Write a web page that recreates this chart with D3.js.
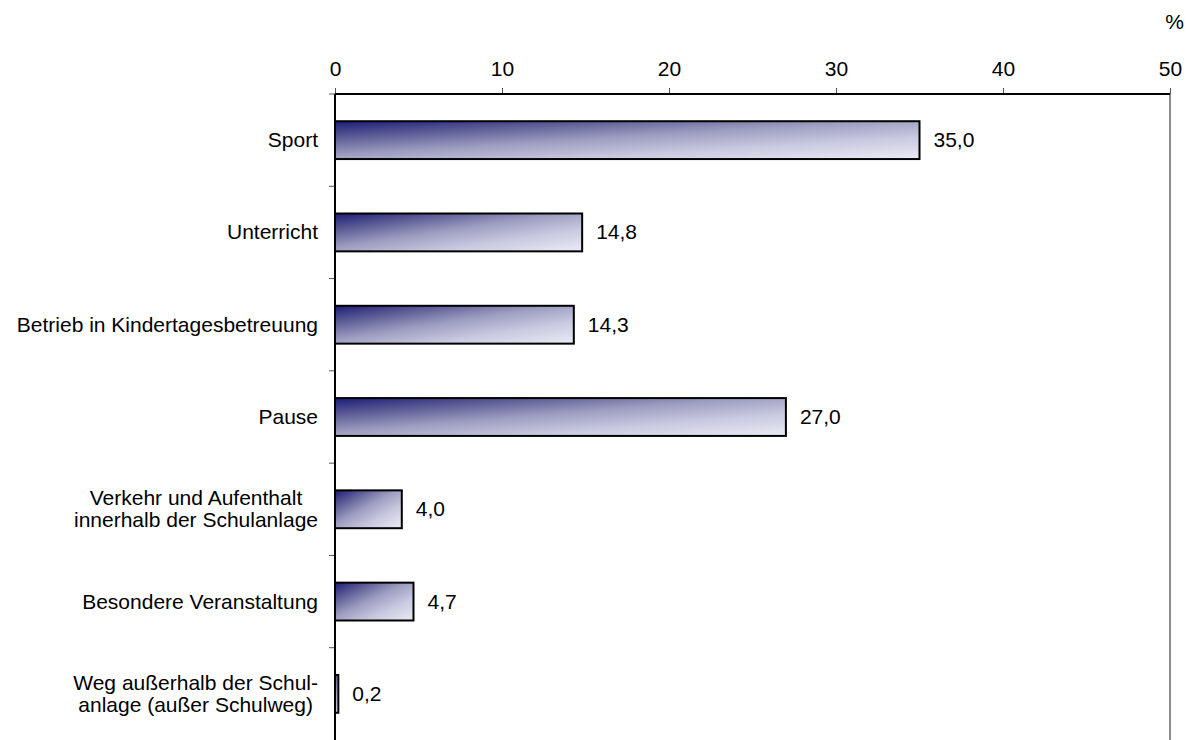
<!DOCTYPE html>
<html>
<head>
<meta charset="utf-8">
<script src="https://cdn.jsdelivr.net/npm/d3@7"></script>
<style>
  body { margin: 0; background: #fff; }
  svg { display: block; font-family: Arial, "Liberation Sans", sans-serif; }
</style>
</head>
<body>
<div id="chart"></div>
<script>
// categories and values (in %)
const categories = [
  ["Sport"],
  ["Unterricht"],
  ["Betrieb in Kindertagesbetreuung"],
  ["Pause"],
  ["Verkehr und Aufenthalt", "innerhalb der Schulanlage"],
  ["Besondere Veranstaltung"],
  ["Weg außerhalb der Schul-", "anlage (außer Schulweg)"]
];
const values = [35.0, 14.8, 14.3, 27.0, 4.0, 4.7, 0.2];
const xTicks = [0, 10, 20, 30, 40, 50];
const unitLabel = "%";

(function(){
  const W = 1187, H = 740;
  const left = 335, right = 1170, top = 94, bottom = 740;
  const fs = 21;

  const svg = d3.select("#chart").append("svg").attr("width", W).attr("height", H);

  // gradient fill for bars
  const grad = svg.append("defs").append("linearGradient")
    .attr("id", "barGrad").attr("x1", 0).attr("y1", 0).attr("x2", 1).attr("y2", 1);
  [[0, "#1c1c78"], [0.22, "#5c5c96"], [0.45, "#9c9cc0"], [0.7, "#c8c8e0"], [1, "#ebebf6"]]
    .forEach(s => grad.append("stop").attr("offset", s[0]).attr("stop-color", s[1]));

  const x = d3.scaleLinear().domain([0, 50]).range([left, right]);
  const y = d3.scaleBand().domain(d3.range(values.length)).range([top, bottom])
    .paddingInner(0.59).paddingOuter(0.295);

  const fmt = v => d3.format(".1f")(v).replace(".", ",");

  // right border (grey)
  svg.append("line").attr("x1", right).attr("x2", right).attr("y1", top).attr("y2", bottom)
    .attr("stroke", "#8c8c8c").attr("stroke-width", 2);

  // top axis
  const xAxis = svg.append("g").attr("transform", `translate(0,${top})`)
    .call(d3.axisTop(x).tickValues(xTicks).tickSize(6).tickPadding(12).tickFormat(d3.format("d")));
  xAxis.select(".domain").remove();
  xAxis.selectAll(".tick line").attr("stroke", "#555");
  xAxis.selectAll(".tick text").attr("font-size", fs).attr("font-family", "Arial, 'Liberation Sans', sans-serif").attr("fill", "#000");
  svg.append("line").attr("x1", left).attr("x2", right).attr("y1", top).attr("y2", top)
    .attr("stroke", "#000").attr("stroke-width", 2);

  svg.append("text").attr("x", 1184).attr("y", 29).attr("text-anchor", "end")
    .attr("font-size", fs).text(unitLabel);

  // category boundary ticks on the left axis
  const step = y.step();
  d3.range(values.length).forEach(i => {
    svg.append("line").attr("x1", left - 6).attr("x2", left)
      .attr("y1", top + i * step).attr("y2", top + i * step)
      .attr("stroke", "#555").attr("stroke-width", 1);
  });

  // bars
  svg.selectAll("rect.bar").data(values).join("rect").attr("class", "bar")
    .attr("x", x(0)).attr("y", (d, i) => y(i))
    .attr("width", d => x(d) - x(0)).attr("height", y.bandwidth())
    .attr("fill", "url(#barGrad)").attr("stroke", "#000").attr("stroke-width", 2);

  // value labels
  svg.selectAll("text.val").data(values).join("text").attr("class", "val")
    .attr("x", d => x(d) + 14).attr("y", (d, i) => y(i) + y.bandwidth() / 2 + 7)
    .attr("font-size", fs).text(d => fmt(d));

  // category labels (multi-line centred, block right aligned)
  categories.forEach(function(lines, i){
    const cy = y(i) + y.bandwidth() / 2;
    const g = svg.append("g");
    const lh = 22;
    const t = lines.map((ln, k) => g.append("text")
      .attr("y", cy + 7 + (k - (lines.length - 1) / 2) * lh)
      .attr("font-size", fs).text(ln));
    const maxW = d3.max(t, e => e.node().getComputedTextLength());
    t.forEach(e => e.attr("x", 318 - maxW / 2).attr("text-anchor", "middle"));
  });

  // left axis line
  svg.append("line").attr("x1", left).attr("x2", left).attr("y1", top).attr("y2", bottom)
    .attr("stroke", "#000").attr("stroke-width", 2);
})();
</script>
</body>
</html>
